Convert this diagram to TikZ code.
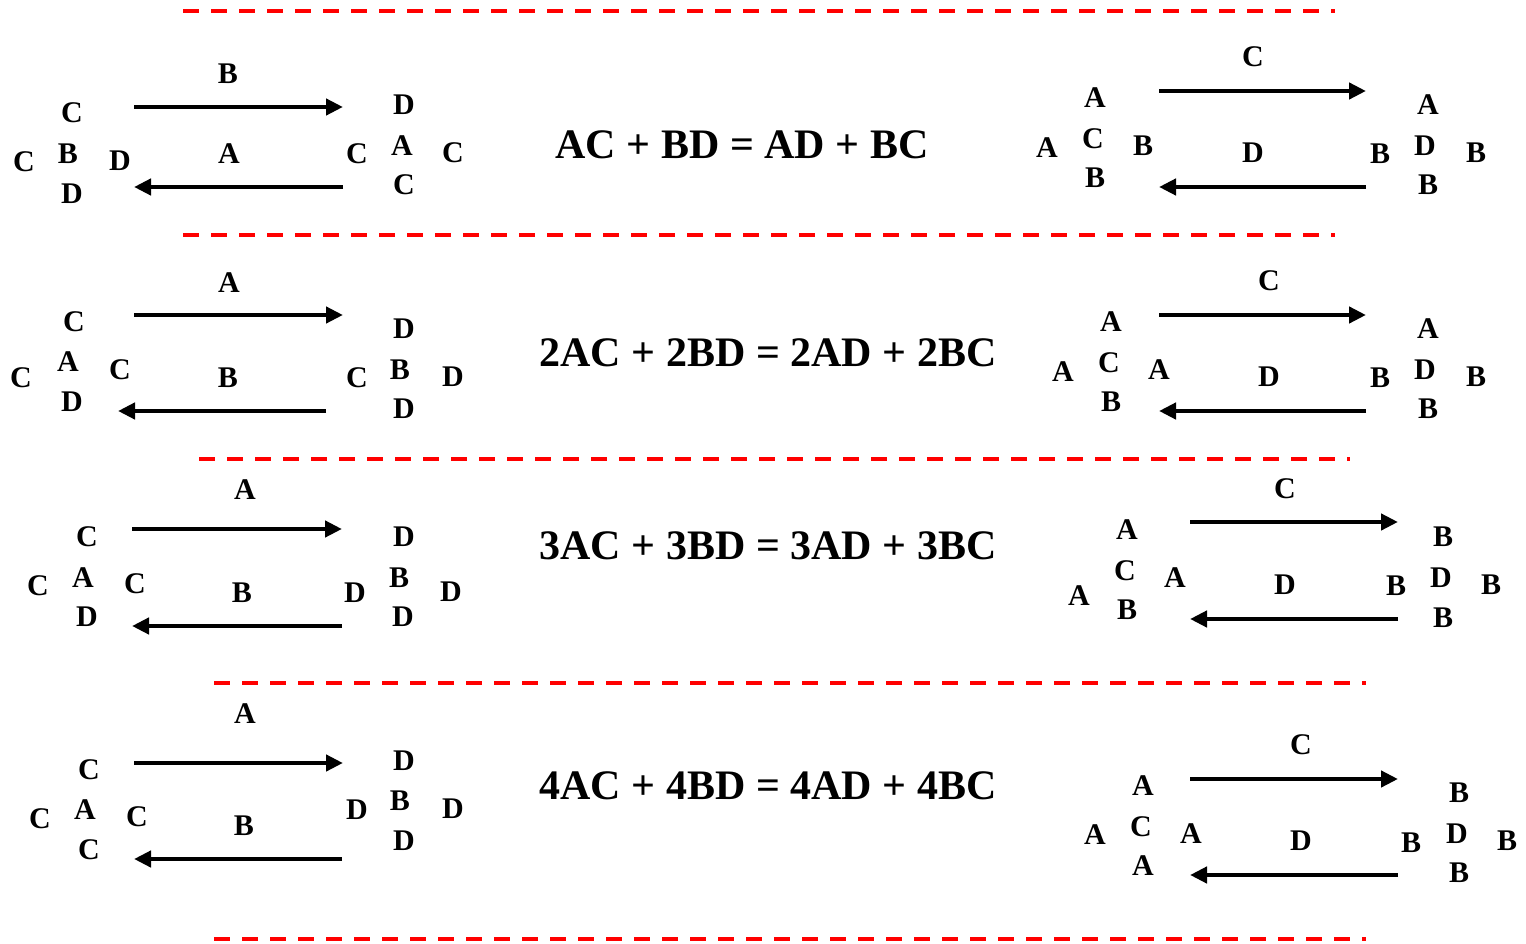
\documentclass[tikz,border=0pt]{standalone}
\usepackage{fontspec}
\setmainfont{Liberation Serif}
\usetikzlibrary{arrows.meta}
\tikzset{
  lt/.style={inner sep=0pt, font=\fontsize{30}{30}\selectfont\bfseries},
  eq/.style={inner sep=0pt, font=\fontsize{42}{42}\selectfont\bfseries},
  sep/.style={draw=red, line width=4pt, dash pattern=on 16pt off 12pt},
  flow/.style={line width=4.4pt, -{Triangle[length=17pt,width=16pt]}}
}
\begin{document}
\begin{tikzpicture}[x=1pt,y=-1pt]
\useasboundingbox (0,0) rectangle (1526,944);

% separators
\coordinate (s1a) at (183,11);  \coordinate (s1b) at (1335,11);
\coordinate (s2a) at (183,235); \coordinate (s2b) at (1335,235);
\coordinate (s3a) at (199,459); \coordinate (s3b) at (1350,459);
\coordinate (s4a) at (214,683); \coordinate (s4b) at (1366,683);
\coordinate (s5a) at (214,939); \coordinate (s5b) at (1366,939);
\foreach \i in {1,...,5} \draw[sep] (s\i a) -- (s\i b);

% ---------- row 1 ----------
\node[lt] (a1t) at (72,113) {C};
\node[lt] (a1l) at (24,162) {C};
\node[lt] (a1m) at (68,154) {B};
\node[lt] (a1r) at (120,161) {D};
\node[lt] (a1b) at (72,194) {D};
\coordinate (p1a) at (134,107); \coordinate (p1b) at (343,107);
\coordinate (q1a) at (343,187); \coordinate (q1b) at (134,187);
\draw[flow] (p1a) -- (p1b);
\draw[flow] (q1a) -- (q1b);
\node[lt] (pl1) at (228,74) {B};
\node[lt] (ql1) at (229,154) {A};
\node[lt] (b1t) at (404,105) {D};
\node[lt] (b1l) at (357,154) {C};
\node[lt] (b1m) at (402,146) {A};
\node[lt] (b1r) at (453,153) {C};
\node[lt] (b1b) at (404,185) {C};

\node[eq] (e1) at (742,145) {AC + BD = AD + BC};

\node[lt] (c1t) at (1095,98) {A};
\node[lt] (c1l) at (1047,148) {A};
\node[lt] (c1m) at (1093,139) {C};
\node[lt] (c1r) at (1143,146) {B};
\node[lt] (c1b) at (1095,178) {B};
\coordinate (u1a) at (1159,91);  \coordinate (u1b) at (1366,91);
\coordinate (v1a) at (1366,187); \coordinate (v1b) at (1159,187);
\draw[flow] (u1a) -- (u1b);
\draw[flow] (v1a) -- (v1b);
\node[lt] (ul1) at (1253,57) {C};
\node[lt] (vl1) at (1253,153) {D};
\node[lt] (d1t) at (1428,105) {A};
\node[lt] (d1l) at (1380,154) {B};
\node[lt] (d1m) at (1425,146) {D};
\node[lt] (d1r) at (1476,153) {B};
\node[lt] (d1b) at (1428,185) {B};

% ---------- row 2 ----------
\node[lt] (a2t) at (74,322) {C};
\node[lt] (a2l) at (21,378) {C};
\node[lt] (a2m) at (68,362) {A};
\node[lt] (a2r) at (120,370) {C};
\node[lt] (a2b) at (72,402) {D};
\coordinate (p2a) at (134,315); \coordinate (p2b) at (343,315);
\coordinate (q2a) at (326,411); \coordinate (q2b) at (118,411);
\draw[flow] (p2a) -- (p2b);
\draw[flow] (q2a) -- (q2b);
\node[lt] (pl2) at (229,283) {A};
\node[lt] (ql2) at (228,378) {B};
\node[lt] (b2t) at (404,329) {D};
\node[lt] (b2l) at (357,378) {C};
\node[lt] (b2m) at (400,370) {B};
\node[lt] (b2r) at (453,377) {D};
\node[lt] (b2b) at (404,409) {D};

\node[eq] (e2) at (768,353) {2AC + 2BD = 2AD + 2BC};

\node[lt] (c2t) at (1111,322) {A};
\node[lt] (c2l) at (1063,372) {A};
\node[lt] (c2m) at (1109,363) {C};
\node[lt] (c2r) at (1159,370) {A};
\node[lt] (c2b) at (1111,402) {B};
\coordinate (u2a) at (1159,315); \coordinate (u2b) at (1366,315);
\coordinate (v2a) at (1366,411); \coordinate (v2b) at (1159,411);
\draw[flow] (u2a) -- (u2b);
\draw[flow] (v2a) -- (v2b);
\node[lt] (ul2) at (1269,281) {C};
\node[lt] (vl2) at (1269,377) {D};
\node[lt] (d2t) at (1428,329) {A};
\node[lt] (d2l) at (1380,378) {B};
\node[lt] (d2m) at (1425,370) {D};
\node[lt] (d2r) at (1476,377) {B};
\node[lt] (d2b) at (1428,409) {B};

% ---------- row 3 ----------
\node[lt] (a3t) at (87,537) {C};
\node[lt] (a3l) at (38,586) {C};
\node[lt] (a3m) at (83,578) {A};
\node[lt] (a3r) at (135,584) {C};
\node[lt] (a3b) at (87,617) {D};
\coordinate (p3a) at (132,529); \coordinate (p3b) at (342,529);
\coordinate (q3a) at (342,626); \coordinate (q3b) at (132,626);
\draw[flow] (p3a) -- (p3b);
\draw[flow] (q3a) -- (q3b);
\node[lt] (pl3) at (245,490) {A};
\node[lt] (ql3) at (242,593) {B};
\node[lt] (b3t) at (404,537) {D};
\node[lt] (b3l) at (355,593) {D};
\node[lt] (b3m) at (399,578) {B};
\node[lt] (b3r) at (451,592) {D};
\node[lt] (b3b) at (403,617) {D};

\node[eq] (e3) at (768,546) {3AC + 3BD = 3AD + 3BC};

\node[lt] (c3t) at (1127,530) {A};
\node[lt] (c3l) at (1079,596) {A};
\node[lt] (c3m) at (1125,571) {C};
\node[lt] (c3r) at (1175,578) {A};
\node[lt] (c3b) at (1127,610) {B};
\coordinate (u3a) at (1190,522); \coordinate (u3b) at (1398,522);
\coordinate (v3a) at (1398,619); \coordinate (v3b) at (1190,619);
\draw[flow] (u3a) -- (u3b);
\draw[flow] (v3a) -- (v3b);
\node[lt] (ul3) at (1285,489) {C};
\node[lt] (vl3) at (1285,585) {D};
\node[lt] (d3t) at (1443,537) {B};
\node[lt] (d3l) at (1396,586) {B};
\node[lt] (d3m) at (1441,578) {D};
\node[lt] (d3r) at (1491,585) {B};
\node[lt] (d3b) at (1443,618) {B};

% ---------- row 4 ----------
\node[lt] (a4t) at (89,770) {C};
\node[lt] (a4l) at (40,819) {C};
\node[lt] (a4m) at (85,810) {A};
\node[lt] (a4r) at (137,817) {C};
\node[lt] (a4b) at (89,850) {C};
\coordinate (p4a) at (134,763); \coordinate (p4b) at (343,763);
\coordinate (q4a) at (342,859); \coordinate (q4b) at (134,859);
\draw[flow] (p4a) -- (p4b);
\draw[flow] (q4a) -- (q4b);
\node[lt] (pl4) at (245,714) {A};
\node[lt] (ql4) at (244,826) {B};
\node[lt] (b4t) at (404,761) {D};
\node[lt] (b4l) at (357,810) {D};
\node[lt] (b4m) at (400,801) {B};
\node[lt] (b4r) at (453,809) {D};
\node[lt] (b4b) at (404,841) {D};

\node[eq] (e4) at (768,786) {4AC + 4BD = 4AD + 4BC};

\node[lt] (c4t) at (1143,786) {A};
\node[lt] (c4l) at (1095,835) {A};
\node[lt] (c4m) at (1141,827) {C};
\node[lt] (c4r) at (1191,834) {A};
\node[lt] (c4b) at (1143,866) {A};
\coordinate (u4a) at (1190,779); \coordinate (u4b) at (1398,779);
\coordinate (v4a) at (1398,875); \coordinate (v4b) at (1190,875);
\draw[flow] (u4a) -- (u4b);
\draw[flow] (v4a) -- (v4b);
\node[lt] (ul4) at (1301,745) {C};
\node[lt] (vl4) at (1301,841) {D};
\node[lt] (d4t) at (1459,793) {B};
\node[lt] (d4l) at (1411,843) {B};
\node[lt] (d4m) at (1457,834) {D};
\node[lt] (d4r) at (1507,841) {B};
\node[lt] (d4b) at (1459,873) {B};
\end{tikzpicture}
\end{document}
